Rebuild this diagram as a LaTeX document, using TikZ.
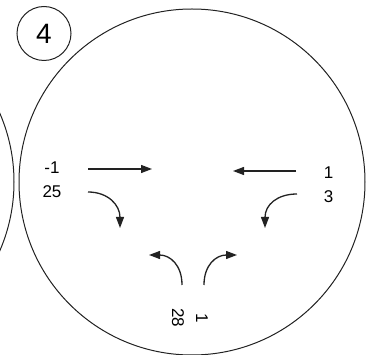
\documentclass[tikz,border=0pt]{standalone}
\usepackage{fontspec}
\setmainfont{Liberation Sans}
\usetikzlibrary{arrows.meta}
\definecolor{ink}{HTML}{222222}
\tikzset{
  ring/.style={draw=ink, line width=1pt},
  num/.style={align=center, inner sep=0pt, font=\fontsize{17}{24}\selectfont},
  flow/.style={-{Triangle[length=11pt,width=8pt]}, line width=1.3pt, draw=ink}
}
\begin{document}
\begin{tikzpicture}[x=1pt,y=-1pt]
\useasboundingbox (0,0) rectangle (378,355);
\begin{scope}
\clip (0,0) rectangle (378,355);
\draw[ring] (-159,182) circle[radius=173pt];
\end{scope}
\draw[ring] (192,182) circle[radius=173pt];
\node[ring, circle, minimum size=54pt, inner sep=0pt, font=\fontsize{28}{28}\selectfont] (tag) at (44,33.5) {4};
\node[num] (lt) at (52,180) {-1\\25};
\node[num] (rt) at (328.5,185) {1\\3};
\node[num, rotate=-90] (bt) at (190,318) {1\\28};
\coordinate (a1) at (88,169); \coordinate (a2) at (152,169);
\coordinate (b1) at (296,171); \coordinate (b2) at (233,171);
\coordinate (c1) at (88,192); \coordinate (c2) at (120,228);
\coordinate (d1) at (297,194); \coordinate (d2) at (265,228);
\coordinate (e1) at (182,285); \coordinate (e2) at (149,255);
\coordinate (f1) at (204,285); \coordinate (f2) at (237,255);
\draw[flow] (a1)--(a2); \draw[flow] (b1)--(b2);
\draw[flow] (c1) .. controls (108,192) and (120,205) .. (c2);
\draw[flow] (d1) .. controls (277,194) and (265,205) .. (d2);
\draw[flow] (e1) .. controls (182,265) and (170,255) .. (e2);
\draw[flow] (f1) .. controls (204,265) and (216,255) .. (f2);
\end{tikzpicture}
\end{document}
